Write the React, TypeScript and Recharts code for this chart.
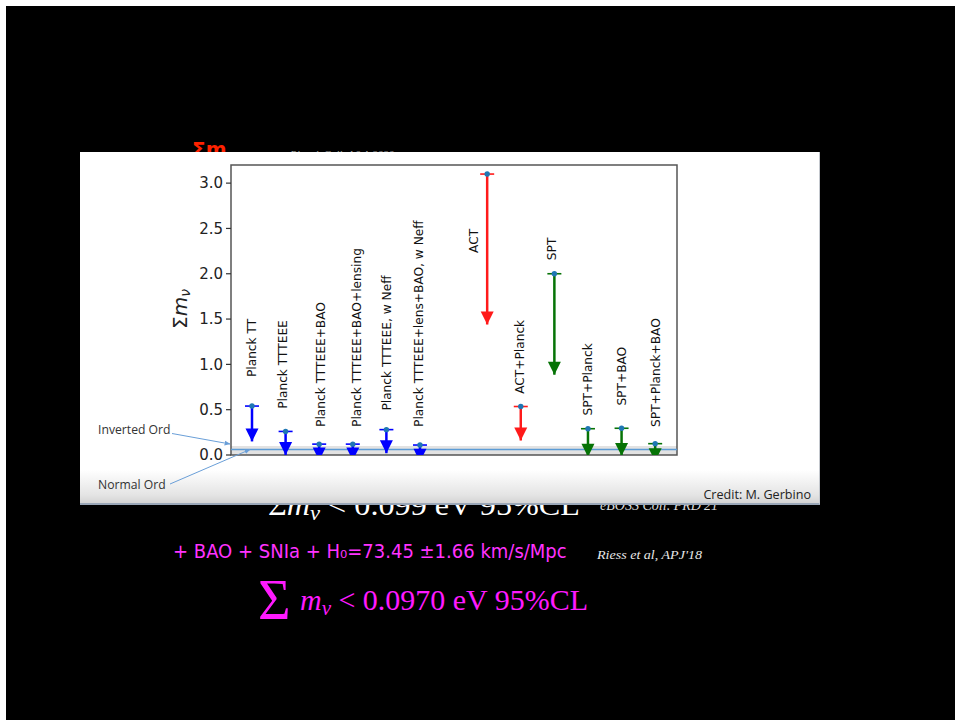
import React from 'react';
import { ComposedChart, Scatter, XAxis, YAxis, ReferenceArea, ReferenceLine } from 'recharts';

const experiments = [
  'Planck TT',
  'Planck TTTEEE',
  'Planck TTTEEE+BAO',
  'Planck TTTEEE+BAO+lensing',
  'Planck TTTEEE, w Neff',
  'Planck TTTEEE+lens+BAO, w Neff',
  'ACT',
  'ACT+Planck',
  'SPT',
  'SPT+Planck',
  'SPT+BAO',
  'SPT+Planck+BAO',
];
const xPositions = [0, 1, 2, 3, 4, 5, 7, 8, 9, 10, 11, 12];
const upperLimits = [0.54, 0.26, 0.12, 0.12, 0.28, 0.11, 3.1, 0.535, 2.0, 0.29, 0.295, 0.125];
const arrowTips = [0.15, 0.0, -0.06, -0.06, 0.02, -0.075, 1.44, 0.16, 0.886, -0.02, -0.01, -0.07];
const groups = ['Planck', 'Planck', 'Planck', 'Planck', 'Planck', 'Planck', 'ACT', 'ACT', 'SPT', 'SPT', 'SPT', 'SPT'];
const labelX = [0.01, 0.91, 2.05, 3.12, 4.03, 4.97, 6.61, 7.98, 8.94, 9.99, 11.0, 12.02];
const labelY = [0.86, 0.51, 0.31, 0.31, 0.49, 0.31, 2.23, 0.675, 2.15, 0.435, 0.545, 0.31];
const yTicks = [0, 0.5, 1.0, 1.5, 2.0, 2.5, 3.0];
const xDomain = [-0.625, 12.65];
const yDomain = [0, 3.2];
const invertedOrderingMax = 0.1;
const normalOrderingMin = 0.06;

const groupColors: Record<string, string> = {
  Planck: '#0000ff',
  ACT: '#ff1a1a',
  SPT: '#067306',
};

const arrowSeries = experiments.map((name, i) => {
  const color = groupColors[groups[i]];
  return {
    name,
    color,
    data: [
      { x: xPositions[i], y: upperLimits[i], kind: 'top', color },
      { x: xPositions[i], y: arrowTips[i], kind: 'tip', color },
    ],
  };
});

const labelData = experiments.map((name, i) => ({ x: labelX[i], y: labelY[i], name }));

const ArrowShape = (props: any) => {
  const { cx, cy, payload } = props;
  if (cx == null || cy == null) return null;
  const c = payload.color;
  if (payload.kind === 'top') {
    return (
      <g>
        <line x1={cx - 7} x2={cx + 7} y1={cy} y2={cy} stroke={c} strokeWidth={1.6} />
        <circle cx={cx} cy={cy} r={2.7} fill="#1f77b4" />
      </g>
    );
  }
  return <path d={`M${cx - 6.5},${cy - 13} L${cx + 6.5},${cy - 13} L${cx},${cy} Z`} fill={c} />;
};

const LabelShape = (props: any) => {
  const { cx, cy, payload } = props;
  if (cx == null || cy == null) return null;
  return (
    <text
      x={cx}
      y={cy}
      transform={`rotate(-90 ${cx} ${cy})`}
      fontSize={12.2}
      fontFamily="DejaVu Sans"
      fill="#111"
      dominantBaseline="central"
      textAnchor="start"
    >
      {payload.name}
    </text>
  );
};

const YLabel = () => (
  <text
    x={100}
    y={157}
    transform="rotate(-90 100 157)"
    textAnchor="middle"
    dominantBaseline="central"
    fontSize={20}
    fontFamily="DejaVu Sans"
    fill="#222"
  >
    Σ<tspan fontStyle="italic">m</tspan>
    <tspan fontStyle="italic" fontSize={14} dy={5}>ν</tspan>
  </text>
);

const Chart = () => (
  <ComposedChart width={740} height={353} margin={{ top: 13, right: 143, bottom: 50, left: 0 }}>
    <XAxis type="number" dataKey="x" domain={xDomain} hide allowDataOverflow />
    <YAxis
      type="number"
      dataKey="y"
      domain={yDomain}
      allowDataOverflow
      ticks={yTicks}
      tickFormatter={(v: number) => v.toFixed(1)}
      width={151}
      tick={{ fontSize: 15, fill: '#222', fontFamily: 'DejaVu Sans' }}
      tickLine={{ stroke: '#333', strokeWidth: 1.2 }}
      tickSize={5}
      tickMargin={3}
      axisLine={false}
      label={<YLabel />}
    />
    <ReferenceArea y1={0} y2={invertedOrderingMax} fill="#e2e2e2" fillOpacity={1} stroke="none" ifOverflow="visible" />
    <ReferenceLine y={normalOrderingMin} stroke="#5b9bd5" strokeWidth={1.5} />
    {arrowSeries.map((s) => (
      <Scatter
        key={s.name}
        name={s.name}
        data={s.data}
        fill={s.color}
        line={{ stroke: s.color, strokeWidth: 2.5 }}
        shape={ArrowShape}
        isAnimationActive={false}
      />
    ))}
    <Scatter name="labels" data={labelData} fill="#111" shape={LabelShape} isAnimationActive={false} />
    <ReferenceArea
      x1={xDomain[0]}
      x2={xDomain[1]}
      y1={yDomain[0]}
      y2={yDomain[1]}
      fill="none"
      stroke="#555"
      strokeWidth={1.5}
      ifOverflow="visible"
    />
  </ComposedChart>
);

export default function App() {
  const serif = "'Liberation Serif', 'DejaVu Serif', serif";
  return (
    <div style={{ position: 'fixed', left: 0, top: 0, width: 955, height: 720, background: '#fff', overflow: 'hidden' }}>
      <div style={{ position: 'absolute', left: 6, top: 6, right: 0, bottom: 0, background: '#000' }} />
      <svg width={955} height={720} style={{ position: 'absolute', left: 0, top: 0 }}>
        <text x={192} y={156} fontSize={20} fontWeight="bold" fontFamily="DejaVu Sans" fill="#ff2200">
          Σm<tspan fontSize={14} dy={4}>ν</tspan>
        </text>
        <text x={290} y={158} fontSize={11} fontStyle="italic" fontFamily={serif} fill="#9a9a9a">
          Planck Coll. A&amp;A 2020
        </text>
        <text x={268} y={515} fontSize={30} fontFamily={serif} fill="#fff" textLength={312} lengthAdjust="spacingAndGlyphs">
          Σ<tspan fontStyle="italic">m</tspan><tspan fontStyle="italic" fontSize={21} dy={5}>ν</tspan>
          <tspan dy={-5}> &lt; 0.099 eV  95%CL</tspan>
        </text>
        <text x={600} y={510} fontSize={15} fontStyle="italic" fontFamily={serif} fill="#ddd" textLength={118} lengthAdjust="spacingAndGlyphs">
          eBOSS Coll. PRD'21
        </text>
        <g transform="translate(173 558) scale(0.9 1)">
          <text x={0} y={0} fontSize={20} fontFamily="DejaVu Sans" fill="#ff33ff">
            + BAO + SNIa + H₀=73.45 ±1.66 km/s/Mpc
          </text>
        </g>
        <text x={597} y={559} fontSize={13} fontStyle="italic" fontFamily={serif} fill="#e8e8e8" textLength={105} lengthAdjust="spacingAndGlyphs">
          Riess et al, APJ'18
        </text>
        <text x={258} y={619} fontSize={56} fontFamily={serif} fill="#ff1aff">
          Σ
        </text>
        <text x={300} y={610} fontSize={30} fontFamily={serif} fill="#ff1aff" textLength={288} lengthAdjust="spacingAndGlyphs">
          <tspan fontStyle="italic">m</tspan><tspan fontStyle="italic" fontSize={21} dy={5}>ν</tspan>
          <tspan dy={-5}> &lt; 0.0970 eV  95%CL</tspan>
        </text>
      </svg>
      <div
        style={{
          position: 'absolute',
          left: 80,
          top: 152,
          width: 740,
          height: 353,
          boxSizing: 'border-box',
          borderBottom: '2px solid #9aa7b8',
          borderRight: '1px solid #c4c8ce',
          background: 'linear-gradient(to bottom, #ffffff 0px, #ffffff 318px, #e4e4e4 343px, #d4d4d4 351px)',
        }}
      >
        <div style={{ position: 'absolute', left: 0, top: 0 }}>
          <Chart />
        </div>
        <svg width={740} height={353} style={{ position: 'absolute', left: 0, top: 0, pointerEvents: 'none' }}>
          <defs>
            <marker id="ah" viewBox="0 0 10 10" refX="9" refY="5" markerWidth="6" markerHeight="6" orient="auto">
              <path d="M0,1 L10,5 L0,9 Z" fill="#6a9fd8" />
            </marker>
          </defs>
          <text x={18} y={282} fontSize={12.2} fontFamily="'Open Sans', sans-serif" fill="#333">Inverted Ord</text>
          <line x1={92} y1={281.5} x2={150} y2={292} stroke="#6a9fd8" strokeWidth={1} markerEnd="url(#ah)" />
          <text x={18} y={337} fontSize={12.2} fontFamily="'Open Sans', sans-serif" fill="#333">Normal Ord</text>
          <line x1={90} y1={332} x2={170} y2={297.5} stroke="#6a9fd8" strokeWidth={1} markerEnd="url(#ah)" />
          <text x={731} y={347} fontSize={12.6} fontFamily="'Open Sans', sans-serif" fill="#222" textAnchor="end">
            Credit: M. Gerbino
          </text>
        </svg>
      </div>
    </div>
  );
}
